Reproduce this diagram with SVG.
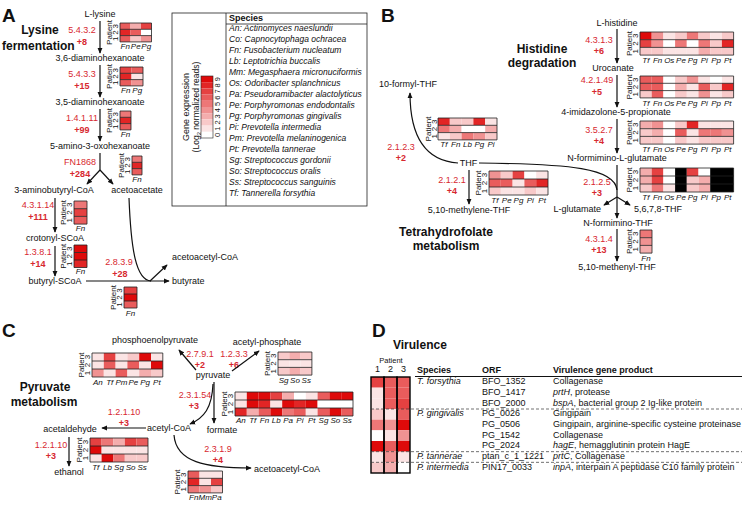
<svg xmlns="http://www.w3.org/2000/svg" width="745" height="505" viewBox="0 0 745 505">
<defs>
<marker id="ah" viewBox="0 0 8 8" refX="7" refY="4" markerWidth="6" markerHeight="6" markerUnits="userSpaceOnUse" orient="auto"><path d="M0,0.6 L8,4 L0,7.4 Z" fill="#111"/></marker>
<style>
text{font-family:"Liberation Sans",Arial,sans-serif;fill:#111}
.pt{font-size:19px;font-weight:bold}
.ti{font-size:12px;font-weight:bold}
.m{font-size:9px;text-anchor:middle}
.ec{font-size:9px;fill:#d7282f;text-anchor:middle}
.nv{font-size:9px;fill:#d7282f;font-weight:bold;text-anchor:middle}
.pl{font-size:8px;text-anchor:middle}
.sp{font-size:8px;font-style:italic;text-anchor:middle}
.hb{fill:none;stroke:#222;stroke-width:0.8}
.ln{fill:none;stroke:#111;stroke-width:1.2}
.ar{fill:none;stroke:#111;stroke-width:1.2;marker-end:url(#ah)}
.lg{font-size:8.5px;font-style:italic}
.tb{font-size:9px}
.th{font-size:9px;font-weight:bold}
.ds{fill:none;stroke:#333;stroke-width:0.7;stroke-dasharray:3,2}
.c0{fill:#ffffff}.c1{fill:#fbe4e4}.c2{fill:#f8c9c9}.c3{fill:#f4adad}.c4{fill:#f09292}
.c5{fill:#ed7777}.c6{fill:#e95c5c}.c7{fill:#e54141}.c8{fill:#e22525}.c9{fill:#de0a0a}.K{fill:#000}
</style>
</defs>
<rect width="745" height="505" fill="#fff"/>

<!-- panel letters and titles -->
<text class="pt" x="2" y="22">A</text>
<text class="pt" x="381" y="22">B</text>
<text class="pt" x="2" y="337">C</text>
<text class="pt" x="372" y="337">D</text>
<text class="ti" x="40" y="34" text-anchor="middle">Lysine</text>
<text class="ti" x="2" y="50">fermentation</text>
<text class="ti" x="542" y="53" text-anchor="middle">Histidine</text>
<text class="ti" x="542" y="67" text-anchor="middle">degradation</text>
<text class="ti" x="446" y="236" text-anchor="middle">Tetrahydrofolate</text>
<text class="ti" x="446" y="250" text-anchor="middle">metabolism</text>
<text class="ti" x="45" y="391" text-anchor="middle">Pyruvate</text>
<text class="ti" x="44" y="406" text-anchor="middle">metabolism</text>
<text class="ti" x="393" y="349">Virulence</text>

<!-- metabolite nodes -->
<g id="metabolites">
<text class="m" x="100" y="17">L-lysine</text>
<text class="m" x="100" y="61">3,6-diaminohexanoate</text>
<text class="m" x="100" y="105">3,5-diaminohexanoate</text>
<text class="m" x="100" y="149">5-amino-3-oxohexanoate</text>
<text class="m" x="54" y="193">3-aminobutyryl-CoA</text>
<text class="m" x="137" y="193">acetoacetate</text>
<text class="m" x="55" y="241">crotonyl-SCoA</text>
<text class="m" x="55" y="284">butyryl-SCoA</text>
<text class="tb" x="172" y="284">butyrate</text>
<text class="tb" x="172" y="260">acetoacetyl-CoA</text>
<text class="m" x="617" y="26">L-histidine</text>
<text class="m" x="613" y="71">Urocanate</text>
<text class="m" x="616" y="115">4-imidazolone-5-propionate</text>
<text class="m" x="617" y="161">N-formimino-L-glutamate</text>
<text class="tb" x="601" y="212" text-anchor="end">L-glutamate</text>
<text class="tb" x="634" y="212">5,6,7,8-THF</text>
<text class="m" x="618" y="226">N-formimino-THF</text>
<text class="m" x="617" y="270">5,10-methenyl-THF</text>
<text class="m" x="408" y="87">10-formyl-THF</text>
<text class="m" x="468.5" y="166">THF</text>
<text class="m" x="469" y="213">5,10-methylene-THF</text>
<text class="m" x="155" y="343">phosphoenolpyruvate</text>
<text class="m" x="267" y="345">acetyl-phosphate</text>
<text class="m" x="213" y="378">pyruvate</text>
<text class="m" x="169" y="431">acetyl-CoA</text>
<text class="m" x="222" y="433">formate</text>
<text class="m" x="70" y="432">acetaldehyde</text>
<text class="m" x="69" y="475">ethanol</text>
<text class="tb" x="254" y="472">acetoacetyl-CoA</text>
</g>

<!-- enzyme labels -->
<g id="enzymes">
<text class="ec" x="82" y="33">5.4.3.2</text><text class="nv" x="82" y="45">+8</text>
<text class="ec" x="82" y="77">5.4.3.3</text><text class="nv" x="82" y="89">+15</text>
<text class="ec" x="82" y="121">1.4.1.11</text><text class="nv" x="82" y="133">+99</text>
<text class="ec" x="80" y="165">FN1868</text><text class="nv" x="80" y="177">+284</text>
<text class="ec" x="38" y="208">4.3.1.14</text><text class="nv" x="38" y="220">+111</text>
<text class="ec" x="38" y="255">1.3.8.1</text><text class="nv" x="38" y="267">+14</text>
<text class="ec" x="119" y="265">2.8.3.9</text><text class="nv" x="120" y="277">+28</text>
<text class="ec" x="599" y="43">4.3.1.3</text><text class="nv" x="599" y="54">+6</text>
<text class="ec" x="597" y="83">4.2.1.49</text><text class="nv" x="597" y="95">+5</text>
<text class="ec" x="599" y="133">3.5.2.7</text><text class="nv" x="599" y="144">+4</text>
<text class="ec" x="597" y="185">2.1.2.5</text><text class="nv" x="597" y="196">+3</text>
<text class="ec" x="599" y="242">4.3.1.4</text><text class="nv" x="599" y="253">+13</text>
<text class="ec" x="401" y="150">2.1.2.3</text><text class="nv" x="401" y="161">+2</text>
<text class="ec" x="452" y="183">2.1.2.1</text><text class="nv" x="452" y="194">+4</text>
<text class="ec" x="200" y="357">2.7.9.1</text><text class="nv" x="200" y="367.5">+2</text>
<text class="ec" x="234" y="357">1.2.3.3</text><text class="nv" x="234" y="367.5">+6</text>
<text class="ec" x="195" y="398">2.3.1.54</text><text class="nv" x="194" y="409">+3</text>
<text class="ec" x="124" y="415">1.2.1.10</text><text class="nv" x="124" y="426">+3</text>
<text class="ec" x="51" y="448">1.2.1.10</text><text class="nv" x="51" y="459">+3</text>
<text class="ec" x="218" y="452">2.3.1.9</text><text class="nv" x="218" y="463">+4</text>
</g>

<!-- connectors -->
<g id="connectors">
<path class="ar" d="M100,21 L100,53"/>
<path class="ar" d="M100,65 L100,97"/>
<path class="ar" d="M100,109 L100,141"/>
<path class="ln" d="M100,153 L100,170"/>
<path class="ar" d="M100,170 L87,184"/>
<path class="ar" d="M100,170 L113,184"/>
<path class="ar" d="M55,198 L55,232"/>
<path class="ar" d="M55,246 L55,276"/>
<path class="ar" d="M86,281 L169,281"/>
<path class="ln" d="M129,198 C131,250 136,280 151,281"/>
<path class="ar" d="M150,281 L167,265"/>
<path class="ar" d="M617,29 L617,63"/>
<path class="ar" d="M617,75 L617,107"/>
<path class="ar" d="M617,119 L617,153"/>
<path class="ar" d="M617,165 L617,218"/>
<path class="ar" d="M617,197 L604,205"/>
<path class="ar" d="M617,197 L630,205"/>
<path class="ln" d="M479,163 C570,164 615,168 617,190"/>
<path class="ar" d="M458,163 C428,161 410,140 410,93"/>
<path class="ar" d="M469,170 L469,204"/>
<path class="ar" d="M617,229 L617,261"/>
<path class="ar" d="M196,370 L179,350"/>
<path class="ar" d="M232,371 L259,351"/>
<path class="ar" d="M214,382 L214,423"/>
<path class="ar" d="M213,384 C212,408 204,418 190,424"/>
<path class="ar" d="M146,428 L102,428"/>
<path class="ar" d="M69,437 L69,466"/>
<path class="ar" d="M174,435 C176,462 205,468 251,468"/>
</g>

<!-- Panel A heatmaps -->
<g id="hmA1" transform="translate(120,23)">
<rect class="c6" x="0" y="0" width="10.5" height="6.3"/><rect class="c3" x="10.5" y="0" width="10.5" height="6.3"/><rect class="c7" x="21" y="0" width="10.5" height="6.3"/>
<rect class="c8" x="0" y="6.3" width="10.5" height="6.3"/><rect class="c6" x="10.5" y="6.3" width="10.5" height="6.3"/><rect class="c0" x="21" y="6.3" width="10.5" height="6.3"/>
<rect class="c6" x="0" y="12.6" width="10.5" height="6.3"/><rect class="c2" x="10.5" y="12.6" width="10.5" height="6.3"/><rect class="c4" x="21" y="12.6" width="10.5" height="6.3"/>
<path class="hb" d="M0,0h31.5v18.9h-31.5z M0,6.3h31.5 M0,12.6h31.5"/>
<text class="pl" transform="translate(-8.5,9.45) rotate(-90)">Patient</text>
<text class="pl" transform="translate(-2,18.9) rotate(-90)" x="3.15 9.45 15.75">123</text>
<text class="sp" y="26.4"><tspan x="5.25">Fn</tspan><tspan x="15.75">Pe</tspan><tspan x="26.25">Pg</tspan></text>
</g>
<g id="hmA2" transform="translate(120,67)">
<rect class="c7" x="0" y="0" width="11.5" height="6.3"/><rect class="c6" x="11.5" y="0" width="11.5" height="6.3"/>
<rect class="c8" x="0" y="6.3" width="11.5" height="6.3"/><rect class="c1" x="11.5" y="6.3" width="11.5" height="6.3"/>
<rect class="c6" x="0" y="12.6" width="11.5" height="6.3"/><rect class="c4" x="11.5" y="12.6" width="11.5" height="6.3"/>
<path class="hb" d="M0,0h23v18.9h-23z M0,6.3h23 M0,12.6h23"/>
<text class="pl" transform="translate(-8.5,9.45) rotate(-90)">Patient</text>
<text class="pl" transform="translate(-2,18.9) rotate(-90)" x="3.15 9.45 15.75">123</text>
<text class="sp" y="26.4"><tspan x="5.75">Fn</tspan><tspan x="17.25">Pg</tspan></text>
</g>
<g id="hmA3" transform="translate(120,111)">
<rect class="c5" x="0" y="0" width="11" height="6.3"/><rect class="c8" x="0" y="6.3" width="11" height="6.3"/><rect class="c6" x="0" y="12.6" width="11" height="6.3"/>
<path class="hb" d="M0,0h11v18.9h-11z M0,6.3h11 M0,12.6h11"/>
<text class="pl" transform="translate(-8.5,9.45) rotate(-90)">Patient</text>
<text class="pl" transform="translate(-2,18.9) rotate(-90)" x="3.15 9.45 15.75">123</text>
<text class="sp" y="26.4"><tspan x="5.5">Fn</tspan></text>
</g>
<g id="hmA4" transform="translate(132,156)">
<rect class="c5" x="0" y="0" width="10" height="6.3"/><rect class="c8" x="0" y="6.3" width="10" height="6.3"/><rect class="c6" x="0" y="12.6" width="10" height="6.3"/>
<path class="hb" d="M0,0h10v18.9h-10z M0,6.3h10 M0,12.6h10"/>
<text class="pl" transform="translate(-8.5,9.45) rotate(-90)">Patient</text>
<text class="pl" transform="translate(-2,18.9) rotate(-90)" x="3.15 9.45 15.75">123</text>
<text class="sp" y="26.4"><tspan x="5">Fn</tspan></text>
</g>
<g id="hmA5" transform="translate(74,201)">
<rect class="c5" x="0" y="0" width="13" height="7.7"/><rect class="c7" x="0" y="7.7" width="13" height="7.7"/><rect class="c6" x="0" y="15.4" width="13" height="7.7"/>
<path class="hb" d="M0,0h13v23.1h-13z M0,7.7h13 M0,15.4h13"/>
<text class="pl" transform="translate(-8.5,11.55) rotate(-90)">Patient</text>
<text class="pl" transform="translate(-2,23.1) rotate(-90)" x="3.85 11.55 19.25">123</text>
<text class="sp" y="30"><tspan x="6.5">Fn</tspan></text>
</g>
<g id="hmA6" transform="translate(74,245)">
<rect class="c9" x="0" y="0" width="13" height="7.5"/><rect class="c9" x="0" y="7.5" width="13" height="7.5"/><rect class="c8" x="0" y="15" width="13" height="7.5"/>
<path class="hb" d="M0,0h13v22.5h-13z M0,7.5h13 M0,15h13"/>
<text class="pl" transform="translate(-8.5,11.25) rotate(-90)">Patient</text>
<text class="pl" transform="translate(-2,22.5) rotate(-90)" x="3.75 11.25 18.75">123</text>
<text class="sp" y="29.3"><tspan x="6.5">Fn</tspan></text>
</g>
<g id="hmA7" transform="translate(124,287)">
<rect class="c7" x="0" y="0" width="13" height="7"/><rect class="c9" x="0" y="7" width="13" height="7"/><rect class="c6" x="0" y="14" width="13" height="7"/>
<path class="hb" d="M0,0h13v21h-13z M0,7h13 M0,14h13"/>
<text class="pl" transform="translate(-8.5,10.5) rotate(-90)">Patient</text>
<text class="pl" transform="translate(-2,21) rotate(-90)" x="3.5 10.5 17.5">123</text>
<text class="sp" y="28.5"><tspan x="6.5">Fn</tspan></text>
</g>

<!-- legend -->
<g id="legend">
<rect x="172" y="13" width="195" height="193" fill="none" stroke="#222" stroke-width="0.8"/>
<line x1="226" y1="13" x2="226" y2="206" stroke="#222" stroke-width="0.8"/>
<line x1="226" y1="24" x2="367" y2="24" stroke="#222" stroke-width="0.8"/>
<text class="th" x="229" y="21">Species</text>
<text class="lg" x="229" y="31">An: Actinomyces naeslundii</text>
<text class="lg" x="229" y="42">Co: Capnocytophaga ochracea</text>
<text class="lg" x="229" y="53">Fn: Fusobacterium nucleatum</text>
<text class="lg" x="229" y="64">Lb: Leptotrichia buccalis</text>
<text class="lg" x="229" y="75">Mm: Megasphaera micronuciformis</text>
<text class="lg" x="229" y="86">Os: Odoribacter splanchnicus</text>
<text class="lg" x="229" y="97">Pa: Pseudoramibacter alactolyticus</text>
<text class="lg" x="229" y="108">Pe: Porphyromonas endodontalis</text>
<text class="lg" x="229" y="119">Pg: Porphyromonas gingivalis</text>
<text class="lg" x="229" y="130">Pi: Prevotella intermedia</text>
<text class="lg" x="229" y="141">Pm: Prevotella melaninogenica</text>
<text class="lg" x="229" y="152">Pt: Prevotella tannerae</text>
<text class="lg" x="229" y="163">Sg: Streptococcus gordonii</text>
<text class="lg" x="229" y="174">So: Streptococcus oralis</text>
<text class="lg" x="229" y="185">Ss: Streptococcus sanguinis</text>
<text class="lg" x="229" y="196">Tf: Tannerella forsythia</text>
<text style="font-size:9px" text-anchor="middle" transform="translate(189,107) rotate(-90)">Gene expression</text>
<text style="font-size:8.5px" text-anchor="middle" transform="translate(199,107) rotate(-90)">(Log<tspan font-size="6" dy="1.5">2</tspan><tspan dy="-1.5"> normalized reads)</tspan></text>
<rect class="c9" x="201" y="76" width="12" height="6.2"/><rect class="c8" x="201" y="82.2" width="12" height="6.2"/>
<rect class="c7" x="201" y="88.4" width="12" height="6.2"/><rect class="c6" x="201" y="94.6" width="12" height="6.2"/>
<rect class="c5" x="201" y="100.8" width="12" height="6.2"/><rect class="c4" x="201" y="107" width="12" height="6.2"/>
<rect class="c3" x="201" y="113.2" width="12" height="6.2"/><rect class="c2" x="201" y="119.4" width="12" height="6.2"/>
<rect class="c1" x="201" y="125.6" width="12" height="6.2"/><rect class="c0" x="201" y="131.8" width="12" height="6.2"/>
<rect x="201" y="76" width="12" height="62" fill="none" stroke="#222" stroke-width="0.6"/>
<text style="font-size:7.5px" text-anchor="middle" transform="translate(220,138) rotate(-90)" x="3.1 9.3 15.5 21.7 27.9 34.1 40.3 46.5 52.7 58.9">0123456789</text>
</g>

<!-- Panel B heatmaps -->
<g id="hmB1" transform="translate(640,32)">
<rect class="c9" x="0" y="0" width="11.7" height="7.7"/><rect class="c4" x="11.7" y="0" width="11.7" height="7.7"/><rect class="c1" x="23.4" y="0" width="11.7" height="7.7"/><rect class="c2" x="35.1" y="0" width="11.7" height="7.7"/><rect class="c5" x="46.8" y="0" width="11.7" height="7.7"/><rect class="c2" x="58.5" y="0" width="11.7" height="7.7"/><rect class="c1" x="70.2" y="0" width="11.7" height="7.7"/><rect class="c2" x="81.9" y="0" width="11.7" height="7.7"/>
<rect class="c7" x="0" y="7.7" width="11.7" height="7.7"/><rect class="c4" x="11.7" y="7.7" width="11.7" height="7.7"/><rect class="c0" x="23.4" y="7.7" width="11.7" height="7.7"/><rect class="c5" x="35.1" y="7.7" width="11.7" height="7.7"/><rect class="c0" x="46.8" y="7.7" width="11.7" height="7.7"/><rect class="c5" x="58.5" y="7.7" width="11.7" height="7.7"/><rect class="c2" x="70.2" y="7.7" width="11.7" height="7.7"/><rect class="c8" x="81.9" y="7.7" width="11.7" height="7.7"/>
<rect class="c2" x="0" y="15.4" width="11.7" height="7.7"/><rect class="c2" x="11.7" y="15.4" width="11.7" height="7.7"/><rect class="c1" x="23.4" y="15.4" width="11.7" height="7.7"/><rect class="c1" x="35.1" y="15.4" width="11.7" height="7.7"/><rect class="c1" x="46.8" y="15.4" width="11.7" height="7.7"/><rect class="c3" x="58.5" y="15.4" width="11.7" height="7.7"/><rect class="c2" x="70.2" y="15.4" width="11.7" height="7.7"/><rect class="c2" x="81.9" y="15.4" width="11.7" height="7.7"/>
<path class="hb" d="M0,0h93.6v23.1h-93.6z M0,7.7h93.6 M0,15.4h93.6"/>
<text class="pl" transform="translate(-8.5,11.55) rotate(-90)">Patient</text>
<text class="pl" transform="translate(-2,23.1) rotate(-90)" x="3.85 11.55 19.25">123</text>
<text class="sp" y="30.8"><tspan x="5.85">Tf</tspan><tspan x="17.55">Fn</tspan><tspan x="29.25">Os</tspan><tspan x="40.95">Pe</tspan><tspan x="52.65">Pg</tspan><tspan x="64.35">Pi</tspan><tspan x="76.05">Pp</tspan><tspan x="87.75">Pt</tspan></text>
</g>
<g id="hmB2" transform="translate(640,76)">
<rect class="c6" x="0" y="0" width="11.7" height="7.3"/><rect class="c6" x="11.7" y="0" width="11.7" height="7.3"/><rect class="c0" x="23.4" y="0" width="11.7" height="7.3"/><rect class="c2" x="35.1" y="0" width="11.7" height="7.3"/><rect class="c4" x="46.8" y="0" width="11.7" height="7.3"/><rect class="c1" x="58.5" y="0" width="11.7" height="7.3"/><rect class="c0" x="70.2" y="0" width="11.7" height="7.3"/><rect class="c1" x="81.9" y="0" width="11.7" height="7.3"/>
<rect class="c6" x="0" y="7.3" width="11.7" height="7.3"/><rect class="c6" x="11.7" y="7.3" width="11.7" height="7.3"/><rect class="c0" x="23.4" y="7.3" width="11.7" height="7.3"/><rect class="c3" x="35.1" y="7.3" width="11.7" height="7.3"/><rect class="c1" x="46.8" y="7.3" width="11.7" height="7.3"/><rect class="c6" x="58.5" y="7.3" width="11.7" height="7.3"/><rect class="c2" x="70.2" y="7.3" width="11.7" height="7.3"/><rect class="c8" x="81.9" y="7.3" width="11.7" height="7.3"/>
<rect class="c2" x="0" y="14.6" width="11.7" height="7.3"/><rect class="c6" x="11.7" y="14.6" width="11.7" height="7.3"/><rect class="c0" x="23.4" y="14.6" width="11.7" height="7.3"/><rect class="c2" x="35.1" y="14.6" width="11.7" height="7.3"/><rect class="c1" x="46.8" y="14.6" width="11.7" height="7.3"/><rect class="c4" x="58.5" y="14.6" width="11.7" height="7.3"/><rect class="c1" x="70.2" y="14.6" width="11.7" height="7.3"/><rect class="c2" x="81.9" y="14.6" width="11.7" height="7.3"/>
<path class="hb" d="M0,0h93.6v21.9h-93.6z M0,7.3h93.6 M0,14.6h93.6"/>
<text class="pl" transform="translate(-8.5,10.95) rotate(-90)">Patient</text>
<text class="pl" transform="translate(-2,21.9) rotate(-90)" x="3.65 10.95 18.25">123</text>
<text class="sp" y="29.6"><tspan x="5.85">Tf</tspan><tspan x="17.55">Fn</tspan><tspan x="29.25">Os</tspan><tspan x="40.95">Pe</tspan><tspan x="52.65">Pg</tspan><tspan x="64.35">Pi</tspan><tspan x="76.05">Pp</tspan><tspan x="87.75">Pt</tspan></text>
</g>
<g id="hmB3" transform="translate(640,121)">
<rect class="c3" x="0" y="0" width="11.7" height="7.7"/><rect class="c4" x="11.7" y="0" width="11.7" height="7.7"/><rect class="c0" x="23.4" y="0" width="11.7" height="7.7"/><rect class="c2" x="35.1" y="0" width="11.7" height="7.7"/><rect class="c8" x="46.8" y="0" width="11.7" height="7.7"/><rect class="c1" x="58.5" y="0" width="11.7" height="7.7"/><rect class="c1" x="70.2" y="0" width="11.7" height="7.7"/><rect class="c1" x="81.9" y="0" width="11.7" height="7.7"/>
<rect class="c2" x="0" y="7.7" width="11.7" height="7.7"/><rect class="c3" x="11.7" y="7.7" width="11.7" height="7.7"/><rect class="c0" x="23.4" y="7.7" width="11.7" height="7.7"/><rect class="c6" x="35.1" y="7.7" width="11.7" height="7.7"/><rect class="c1" x="46.8" y="7.7" width="11.7" height="7.7"/><rect class="c5" x="58.5" y="7.7" width="11.7" height="7.7"/><rect class="c5" x="70.2" y="7.7" width="11.7" height="7.7"/><rect class="c4" x="81.9" y="7.7" width="11.7" height="7.7"/>
<rect class="c2" x="0" y="15.4" width="11.7" height="7.7"/><rect class="c2" x="11.7" y="15.4" width="11.7" height="7.7"/><rect class="c0" x="23.4" y="15.4" width="11.7" height="7.7"/><rect class="c2" x="35.1" y="15.4" width="11.7" height="7.7"/><rect class="c1" x="46.8" y="15.4" width="11.7" height="7.7"/><rect class="c2" x="58.5" y="15.4" width="11.7" height="7.7"/><rect class="c2" x="70.2" y="15.4" width="11.7" height="7.7"/><rect class="c2" x="81.9" y="15.4" width="11.7" height="7.7"/>
<path class="hb" d="M0,0h93.6v23.1h-93.6z M0,7.7h93.6 M0,15.4h93.6"/>
<text class="pl" transform="translate(-8.5,11.55) rotate(-90)">Patient</text>
<text class="pl" transform="translate(-2,23.1) rotate(-90)" x="3.85 11.55 19.25">123</text>
<text class="sp" y="30.6"><tspan x="5.85">Tf</tspan><tspan x="17.55">Fn</tspan><tspan x="29.25">Os</tspan><tspan x="40.95">Pe</tspan><tspan x="52.65">Pg</tspan><tspan x="64.35">Pi</tspan><tspan x="76.05">Pp</tspan><tspan x="87.75">Pt</tspan></text>
</g>
<g id="hmB4" transform="translate(640,168)">
<rect class="c3" x="0" y="0" width="11.7" height="8"/><rect class="c7" x="11.7" y="0" width="11.7" height="8"/><rect class="c0" x="23.4" y="0" width="11.7" height="8"/><rect class="K" x="35.1" y="0" width="11.7" height="8"/><rect class="c7" x="46.8" y="0" width="11.7" height="8"/><rect class="c0" x="58.5" y="0" width="11.7" height="8"/><rect class="K" x="70.2" y="0" width="23.4" height="8"/>
<rect class="c3" x="0" y="8" width="11.7" height="8"/><rect class="c7" x="11.7" y="8" width="11.7" height="8"/><rect class="c0" x="23.4" y="8" width="11.7" height="8"/><rect class="K" x="35.1" y="8" width="11.7" height="8"/><rect class="c2" x="46.8" y="8" width="11.7" height="8"/><rect class="c3" x="58.5" y="8" width="11.7" height="8"/><rect class="K" x="70.2" y="8" width="23.4" height="8"/>
<rect class="c2" x="0" y="16" width="11.7" height="8"/><rect class="c5" x="11.7" y="16" width="11.7" height="8"/><rect class="c1" x="23.4" y="16" width="11.7" height="8"/><rect class="K" x="35.1" y="16" width="11.7" height="8"/><rect class="c2" x="46.8" y="16" width="11.7" height="8"/><rect class="c3" x="58.5" y="16" width="11.7" height="8"/><rect class="K" x="70.2" y="16" width="23.4" height="8"/>
<path class="hb" d="M0,0h93.6v24h-93.6z M0,8h93.6 M0,16h93.6"/>
<text class="pl" transform="translate(-8.5,12) rotate(-90)">Patient</text>
<text class="pl" transform="translate(-2,24) rotate(-90)" x="4 12 20">123</text>
<text class="sp" y="31.5"><tspan x="5.85">Tf</tspan><tspan x="17.55">Fn</tspan><tspan x="29.25">Os</tspan><tspan x="40.95">Pe</tspan><tspan x="52.65">Pg</tspan><tspan x="64.35">Pi</tspan><tspan x="76.05">Pp</tspan><tspan x="87.75">Pt</tspan></text>
</g>
<g id="hmB5" transform="translate(640,230)">
<rect class="c5" x="0" y="0" width="12" height="7.7"/><rect class="c4" x="0" y="7.7" width="12" height="7.7"/><rect class="c3" x="0" y="15.4" width="12" height="7.7"/>
<path class="hb" d="M0,0h12v23.1h-12z M0,7.7h12 M0,15.4h12"/>
<text class="pl" transform="translate(-8.5,11.55) rotate(-90)">Patient</text>
<text class="pl" transform="translate(-2,23.1) rotate(-90)" x="3.85 11.55 19.25">123</text>
<text class="sp" y="30.6"><tspan x="6">Fn</tspan></text>
</g>
<g id="hmB6" transform="translate(438,118)">
<rect class="c8" x="0" y="0" width="11.8" height="7.3"/><rect class="c2" x="11.8" y="0" width="11.8" height="7.3"/><rect class="c2" x="23.6" y="0" width="11.8" height="7.3"/><rect class="c8" x="35.4" y="0" width="11.8" height="7.3"/><rect class="c1" x="47.2" y="0" width="11.8" height="7.3"/>
<rect class="c5" x="0" y="7.3" width="11.8" height="7.3"/><rect class="c3" x="11.8" y="7.3" width="11.8" height="7.3"/><rect class="c0" x="23.6" y="7.3" width="11.8" height="7.3"/><rect class="c0" x="35.4" y="7.3" width="11.8" height="7.3"/><rect class="c3" x="47.2" y="7.3" width="11.8" height="7.3"/>
<rect class="c1" x="0" y="14.6" width="11.8" height="7.3"/><rect class="c2" x="11.8" y="14.6" width="11.8" height="7.3"/><rect class="c5" x="23.6" y="14.6" width="11.8" height="7.3"/><rect class="c4" x="35.4" y="14.6" width="11.8" height="7.3"/><rect class="c2" x="47.2" y="14.6" width="11.8" height="7.3"/>
<path class="hb" d="M0,0h59v21.9h-59z M0,7.3h59 M0,14.6h59"/>
<text class="pl" transform="translate(-7,10.95) rotate(-90)">Patient</text>
<text class="pl" transform="translate(-1,21.9) rotate(-90)" x="3.65 10.95 18.25">123</text>
<text class="sp" y="29.4"><tspan x="5.9">Tf</tspan><tspan x="17.7">Fn</tspan><tspan x="29.5">Lb</tspan><tspan x="41.3">Pg</tspan><tspan x="53.1">Pi</tspan></text>
</g>
<g id="hmB7" transform="translate(489,171)">
<rect class="c4" x="0" y="0" width="11.8" height="8"/><rect class="c2" x="11.8" y="0" width="11.8" height="8"/><rect class="c7" x="23.6" y="0" width="11.8" height="8"/><rect class="c0" x="35.4" y="0" width="11.8" height="8"/><rect class="c1" x="47.2" y="0" width="11.8" height="8"/>
<rect class="c6" x="0" y="8" width="11.8" height="8"/><rect class="c6" x="11.8" y="8" width="11.8" height="8"/><rect class="c1" x="23.6" y="8" width="11.8" height="8"/><rect class="c6" x="35.4" y="8" width="11.8" height="8"/><rect class="c8" x="47.2" y="8" width="11.8" height="8"/>
<rect class="c2" x="0" y="16" width="11.8" height="8"/><rect class="c1" x="11.8" y="16" width="11.8" height="8"/><rect class="c1" x="23.6" y="16" width="11.8" height="8"/><rect class="c2" x="35.4" y="16" width="11.8" height="8"/><rect class="c1" x="47.2" y="16" width="11.8" height="8"/>
<path class="hb" d="M0,0h59v24h-59z M0,8h59 M0,16h59"/>
<text class="pl" transform="translate(-8.5,12) rotate(-90)">Patient</text>
<text class="pl" transform="translate(-2,24) rotate(-90)" x="4 12 20">123</text>
<text class="sp" y="31.5"><tspan x="5.9">Tf</tspan><tspan x="17.7">Pe</tspan><tspan x="29.5">Pg</tspan><tspan x="41.3">Pi</tspan><tspan x="53.1">Pt</tspan></text>
</g>

<!-- Panel C heatmaps -->
<g id="hmC1" transform="translate(92,353)">
<rect class="c1" x="0" y="0" width="11.8" height="8"/><rect class="c7" x="11.8" y="0" width="11.8" height="8"/><rect class="c1" x="23.6" y="0" width="11.8" height="8"/><rect class="c2" x="35.4" y="0" width="11.8" height="8"/><rect class="c9" x="47.2" y="0" width="11.8" height="8"/><rect class="c1" x="59" y="0" width="11.8" height="8"/>
<rect class="c1" x="0" y="8" width="11.8" height="8"/><rect class="c6" x="11.8" y="8" width="11.8" height="8"/><rect class="c1" x="23.6" y="8" width="11.8" height="8"/><rect class="c6" x="35.4" y="8" width="11.8" height="8"/><rect class="c1" x="47.2" y="8" width="11.8" height="8"/><rect class="c9" x="59" y="8" width="11.8" height="8"/>
<rect class="c4" x="0" y="16" width="11.8" height="8"/><rect class="c1" x="11.8" y="16" width="11.8" height="8"/><rect class="c6" x="23.6" y="16" width="11.8" height="8"/><rect class="c1" x="35.4" y="16" width="11.8" height="8"/><rect class="c3" x="47.2" y="16" width="11.8" height="8"/><rect class="c2" x="59" y="16" width="11.8" height="8"/>
<path class="hb" d="M0,0h70.8v24h-70.8z M0,8h70.8 M0,16h70.8"/>
<text class="pl" transform="translate(-8.5,12) rotate(-90)">Patient</text>
<text class="pl" transform="translate(-2,24) rotate(-90)" x="4 12 20">123</text>
<text class="sp" y="31.5"><tspan x="5.9">An</tspan><tspan x="17.7">Tf</tspan><tspan x="29.5">Pm</tspan><tspan x="41.3">Pe</tspan><tspan x="53.1">Pg</tspan><tspan x="64.9">Pt</tspan></text>
</g>
<g id="hmC2" transform="translate(278,352)">
<rect class="c2" x="0" y="0" width="11.3" height="7.7"/><rect class="c3" x="11.3" y="0" width="11.3" height="7.7"/><rect class="c2" x="22.6" y="0" width="11.3" height="7.7"/>
<rect class="c1" x="0" y="7.7" width="11.3" height="7.7"/><rect class="c1" x="11.3" y="7.7" width="11.3" height="7.7"/><rect class="c1" x="22.6" y="7.7" width="11.3" height="7.7"/>
<rect class="c2" x="0" y="15.4" width="11.3" height="7.7"/><rect class="c3" x="11.3" y="15.4" width="11.3" height="7.7"/><rect class="c2" x="22.6" y="15.4" width="11.3" height="7.7"/>
<path class="hb" d="M0,0h33.9v23.1h-33.9z M0,7.7h33.9 M0,15.4h33.9"/>
<text class="pl" transform="translate(-8.5,11.55) rotate(-90)">Patient</text>
<text class="pl" transform="translate(-2,23.1) rotate(-90)" x="3.85 11.55 19.25">123</text>
<text class="sp" y="30.6"><tspan x="5.65">Sg</tspan><tspan x="16.95">So</tspan><tspan x="28.25">Ss</tspan></text>
</g>
<g id="hmC3" transform="translate(235,392)">
<rect class="c1" x="0" y="0" width="11.8" height="8"/><rect class="c9" x="11.8" y="0" width="11.8" height="8"/><rect class="c9" x="23.6" y="0" width="11.8" height="8"/><rect class="c7" x="35.4" y="0" width="11.8" height="8"/><rect class="c3" x="47.2" y="0" width="11.8" height="8"/><rect class="c0" x="59" y="0" width="11.8" height="8"/><rect class="c1" x="70.8" y="0" width="11.8" height="8"/><rect class="c6" x="82.6" y="0" width="11.8" height="8"/><rect class="c9" x="94.4" y="0" width="11.8" height="8"/><rect class="c9" x="106.2" y="0" width="11.8" height="8"/>
<rect class="c1" x="0" y="8" width="11.8" height="8"/><rect class="c9" x="11.8" y="8" width="11.8" height="8"/><rect class="c8" x="23.6" y="8" width="11.8" height="8"/><rect class="c1" x="35.4" y="8" width="11.8" height="8"/><rect class="c9" x="47.2" y="8" width="11.8" height="8"/><rect class="c8" x="59" y="8" width="11.8" height="8"/><rect class="c9" x="70.8" y="8" width="11.8" height="8"/><rect class="c0" x="82.6" y="8" width="11.8" height="8"/><rect class="c0" x="94.4" y="8" width="11.8" height="8"/><rect class="c0" x="106.2" y="8" width="11.8" height="8"/>
<rect class="c8" x="0" y="16" width="11.8" height="8"/><rect class="c3" x="11.8" y="16" width="11.8" height="8"/><rect class="c6" x="23.6" y="16" width="11.8" height="8"/><rect class="c9" x="35.4" y="16" width="11.8" height="8"/><rect class="c5" x="47.2" y="16" width="11.8" height="8"/><rect class="c6" x="59" y="16" width="11.8" height="8"/><rect class="c1" x="70.8" y="16" width="11.8" height="8"/><rect class="c6" x="82.6" y="16" width="11.8" height="8"/><rect class="c9" x="94.4" y="16" width="11.8" height="8"/><rect class="c6" x="106.2" y="16" width="11.8" height="8"/>
<path class="hb" d="M0,0h118v24h-118z M0,8h118 M0,16h118"/>
<text class="pl" transform="translate(-8.5,12) rotate(-90)">Patient</text>
<text class="pl" transform="translate(-2,24) rotate(-90)" x="4 12 20">123</text>
<text class="sp" y="31.2"><tspan x="5.9">An</tspan><tspan x="17.7">Tf</tspan><tspan x="29.5">Fn</tspan><tspan x="41.3">Lb</tspan><tspan x="53.1">Pa</tspan><tspan x="64.9">Pi</tspan><tspan x="76.7">Pt</tspan><tspan x="88.5">Sg</tspan><tspan x="100.3">So</tspan><tspan x="112.1">Ss</tspan></text>
</g>
<g id="hmC4" transform="translate(90,438)">
<rect class="c7" x="0" y="0" width="11.6" height="8"/><rect class="c5" x="11.6" y="0" width="11.6" height="8"/><rect class="c3" x="23.2" y="0" width="11.6" height="8"/><rect class="c7" x="34.8" y="0" width="11.6" height="8"/><rect class="c6" x="46.4" y="0" width="11.6" height="8"/>
<rect class="c9" x="0" y="8" width="11.6" height="8"/><rect class="c1" x="11.6" y="8" width="11.6" height="8"/><rect class="c1" x="23.2" y="8" width="11.6" height="8"/><rect class="c1" x="34.8" y="8" width="11.6" height="8"/><rect class="c1" x="46.4" y="8" width="11.6" height="8"/>
<rect class="c1" x="0" y="16" width="11.6" height="8"/><rect class="c9" x="11.6" y="16" width="11.6" height="8"/><rect class="c5" x="23.2" y="16" width="11.6" height="8"/><rect class="c2" x="34.8" y="16" width="11.6" height="8"/><rect class="c2" x="46.4" y="16" width="11.6" height="8"/>
<path class="hb" d="M0,0h58v24h-58z M0,8h58 M0,16h58"/>
<text class="pl" transform="translate(-8.5,12) rotate(-90)">Patient</text>
<text class="pl" transform="translate(-2,24) rotate(-90)" x="4 12 20">123</text>
<text class="sp" y="31.5"><tspan x="5.8">Tf</tspan><tspan x="17.4">Lb</tspan><tspan x="29">Sg</tspan><tspan x="40.6">So</tspan><tspan x="52.2">Ss</tspan></text>
</g>
<g id="hmC5" transform="translate(188,471)">
<rect class="c6" x="0" y="0" width="11.5" height="7.3"/><rect class="c1" x="11.5" y="0" width="11.5" height="7.3"/><rect class="c1" x="23" y="0" width="11.5" height="7.3"/>
<rect class="c8" x="0" y="7.3" width="11.5" height="7.3"/><rect class="c1" x="11.5" y="7.3" width="11.5" height="7.3"/><rect class="c7" x="23" y="7.3" width="11.5" height="7.3"/>
<rect class="c5" x="0" y="14.6" width="11.5" height="7.3"/><rect class="c4" x="11.5" y="14.6" width="11.5" height="7.3"/><rect class="c2" x="23" y="14.6" width="11.5" height="7.3"/>
<path class="hb" d="M0,0h34.5v21.9h-34.5z M0,7.3h34.5 M0,14.6h34.5"/>
<text class="pl" transform="translate(-8.5,10.95) rotate(-90)">Patient</text>
<text class="pl" transform="translate(-2,21.9) rotate(-90)" x="3.65 10.95 18.25">123</text>
<text class="sp" y="29.2"><tspan x="5.75">Fn</tspan><tspan x="17.25">Mm</tspan><tspan x="28.75">Pa</tspan></text>
</g>

<!-- Panel D -->
<g id="virulence">
<text class="pl" x="391" y="363" style="font-size:7.5px">Patient</text>
<text class="tb" x="377.5" y="372" text-anchor="middle">1</text>
<text class="tb" x="390.5" y="372" text-anchor="middle">2</text>
<text class="tb" x="403.5" y="372" text-anchor="middle">3</text>
<g transform="translate(371,377)">
<rect class="c7" x="0" y="0" width="13" height="10.67"/><rect class="c1" x="0" y="10.67" width="13" height="10.67"/><rect class="c1" x="0" y="21.33" width="13" height="10.67"/><rect class="c2" x="0" y="32" width="13" height="10.67"/><rect class="c5" x="0" y="42.67" width="13" height="10.67"/><rect class="c0" x="0" y="53.33" width="13" height="10.67"/><rect class="c9" x="0" y="64" width="13" height="10.67"/><rect class="c1" x="0" y="74.67" width="13" height="10.67"/><rect class="c2" x="0" y="85.33" width="13" height="10.67"/>
<rect class="c6" x="13" y="0" width="13" height="10.67"/><rect class="c6" x="13" y="10.67" width="13" height="10.67"/><rect class="c6" x="13" y="21.33" width="13" height="10.67"/><rect class="c1" x="13" y="32" width="13" height="10.67"/><rect class="c4" x="13" y="42.67" width="13" height="10.67"/><rect class="c1" x="13" y="53.33" width="13" height="10.67"/><rect class="c6" x="13" y="64" width="13" height="10.67"/><rect class="c4" x="13" y="74.67" width="13" height="10.67"/><rect class="c3" x="13" y="85.33" width="13" height="10.67"/>
<rect class="c6" x="26" y="0" width="13" height="10.67"/><rect class="c6" x="26" y="10.67" width="13" height="10.67"/><rect class="c7" x="26" y="21.33" width="13" height="10.67"/><rect class="c6" x="26" y="32" width="13" height="10.67"/><rect class="c9" x="26" y="42.67" width="13" height="10.67"/><rect class="c4" x="26" y="53.33" width="13" height="10.67"/><rect class="c9" x="26" y="64" width="13" height="10.67"/><rect class="c1" x="26" y="74.67" width="13" height="10.67"/><rect class="c0" x="26" y="85.33" width="13" height="10.67"/>
<rect x="0" y="0" width="13" height="96" fill="none" stroke="#000" stroke-width="1.4"/>
<rect x="13" y="0" width="13" height="96" fill="none" stroke="#000" stroke-width="1.4"/>
<rect x="26" y="0" width="13" height="96" fill="none" stroke="#000" stroke-width="1.4"/>
</g>
<line x1="415" y1="376.5" x2="742" y2="376.5" stroke="#111" stroke-width="1"/>
<path class="ds" d="M371,409H742 M371,451.67H742 M371,462.33H742"/>
<text class="th" x="417" y="373">Species</text>
<text class="th" x="482" y="373">ORF</text>
<text class="th" x="553" y="373">Virulence gene product</text>
<text class="tb" x="417" y="384.3" font-style="italic">T. forsythia</text>
<text class="tb" x="417" y="416.3" font-style="italic">P. gingivalis</text>
<text class="tb" x="417" y="459" font-style="italic">P. tannerae</text>
<text class="tb" x="417" y="469.6" font-style="italic">P. intermedia</text>
<text class="tb" x="482" y="384.3">BFO_1352</text>
<text class="tb" x="482" y="395">BFO_1417</text>
<text class="tb" x="482" y="405.6">BFO_2000</text>
<text class="tb" x="482" y="416.3">PG_0026</text>
<text class="tb" x="482" y="427">PG_0506</text>
<text class="tb" x="482" y="437.6">PG_1542</text>
<text class="tb" x="482" y="448.3">PG_2024</text>
<text class="tb" x="482" y="459">ptan_c_1_1221</text>
<text class="tb" x="482" y="469.6">PIN17_0033</text>
<text class="tb" x="553" y="384.3">Collagenase</text>
<text class="tb" x="553" y="395"><tspan font-style="italic">prtH</tspan>, protease</text>
<text class="tb" x="553" y="405.6"><tspan font-style="italic">bspA</tspan>, bacterial group 2 Ig-like protein</text>
<text class="tb" x="553" y="416.3">Gingipain</text>
<text class="tb" x="553" y="427">Gingipain, arginine-specific cysteine proteinase</text>
<text class="tb" x="553" y="437.6">Collagenase</text>
<text class="tb" x="553" y="448.3"><tspan font-style="italic">hagE</tspan>, hemagglutinin protein HagE</text>
<text class="tb" x="553" y="459"><tspan font-style="italic">prtC</tspan>, Collagenase</text>
<text class="tb" x="553" y="469.6"><tspan font-style="italic">inpA</tspan>, interpain A peptidase C10 family protein</text>
</g>
</svg>
